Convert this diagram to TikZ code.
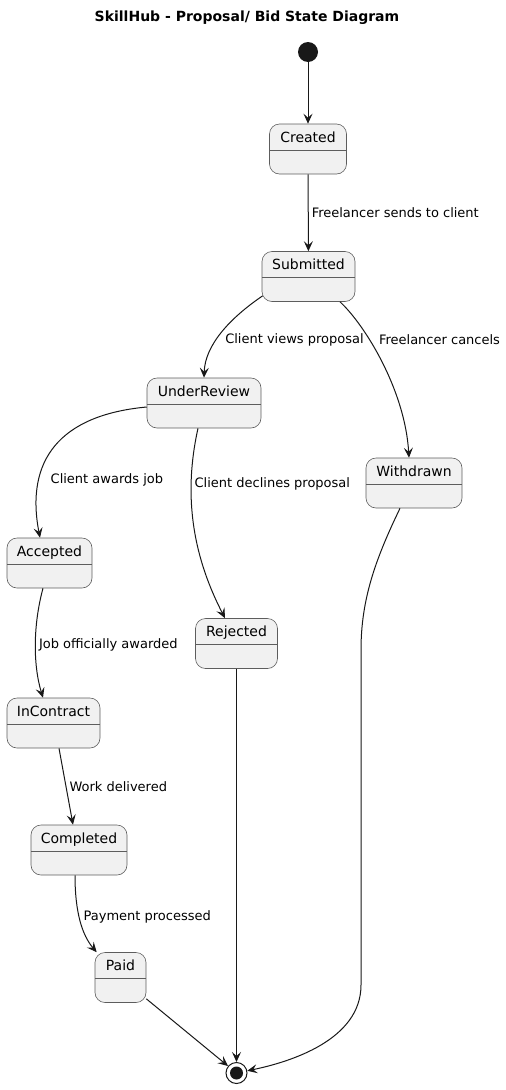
\documentclass[tikz,border=0pt]{standalone}
\usepackage{fontspec}
\setmainfont{DejaVu Sans}
\usetikzlibrary{arrows.meta,calc}
\definecolor{boxfill}{HTML}{F1F1F1}
\definecolor{boxline}{HTML}{5D5D5D}
\definecolor{edgeink}{HTML}{181818}
\begin{document}
\begin{tikzpicture}[x=1pt,y=-1pt,
    state/.style={draw=boxline,fill=boxfill,line width=0.6pt,rounded corners=10pt,
        inner xsep=0pt,inner ysep=0pt,minimum width=#1,text height=18pt,text depth=32pt,
        font=\fontsize{14}{16}\selectfont,
        path picture={\draw[boxline,line width=0.6pt]
            ([yshift=-26pt]path picture bounding box.north west) --
            ([yshift=-26pt]path picture bounding box.north east);}},
    startst/.style={circle,fill=edgeink,minimum size=20pt,inner sep=0pt},
    finalst/.style={circle,draw=edgeink,line width=1pt,minimum size=21pt,inner sep=0pt,
        path picture={\fill[edgeink] (path picture bounding box.center) circle (6.5pt);}},
    tr/.style={draw=edgeink,line width=1pt,-{Stealth[length=10pt,width=9pt,inset=4pt]}},
    lbl/.style={font=\fontsize{13}{15}\selectfont,inner sep=2pt}]
    \useasboundingbox (0,0) rectangle (506,1090);

    % 标题
    \node[font=\bfseries\fontsize{14}{16}\selectfont] (title) at (247,18) {SkillHub - Proposal/ Bid State Diagram};

    % 状态
    \node[startst] (init) at (308,52) {};
    \node[state=77] (created) at (308,149) {Created};
    \node[state=93] (sub) at (308.5,276.5) {Submitted};
    \node[state=114] (rev) at (204,403) {UnderReview};
    \node[state=96] (wd) at (414,483) {Withdrawn};
    \node[state=85] (acc) at (49.5,563) {Accepted};
    \node[state=82] (rej) at (236.5,643.5) {Rejected};
    \node[state=93] (inc) at (53.5,723) {InContract};
    \node[state=96] (comp) at (79,850) {Completed};
    \node[state=51] (paid) at (120.5,977.5) {Paid};
    \node[finalst] (final) at (236.5,1073) {};

    % 转移
    \draw[tr] (init) -- (created);
    \draw[tr] (created) -- (sub) node[lbl,right=1pt,midway] {Freelancer sends to client};
    \draw[tr] ($(sub.south west)+(1,-6)$) .. controls (230,318) and (205,345) .. (rev.north)
        node[lbl,right=6pt,pos=0.58] {Client views proposal};
    \draw[tr] ($(sub.south)+(31.5,0)$) .. controls (365,325) and (405,390) .. ($(wd.north)+(-5,0)$)
        node[lbl,right=7pt,pos=0.35] {Freelancer cancels};
    \draw[tr] ($(rev.west)+(0,4)$) .. controls (60,415) and (25,460) .. ($(acc.north)+(-9.5,0)$)
        node[lbl,right=9pt,pos=0.72] {Client awards job};
    \draw[tr] ($(rev.south)+(-6,0)$) .. controls (182,500) and (195,560) .. ($(rej.north)+(-11.5,0)$)
        node[lbl,right=1pt,pos=0.27] {Client declines proposal};
    \draw[tr] ($(wd.south)+(-14,0)$) .. controls (375,560) and (361,600) .. (361,650)
        -- (361,985) .. controls (361,1040) and (290,1062) .. (final);
    \draw[tr] (rej) -- (final);
    \draw[tr] ($(acc.south)+(-6.5,0)$) .. controls (33,625) and (33,665) .. ($(inc.north)+(-10.5,0)$)
        node[lbl,right=1pt,pos=0.5] {Job officially awarded};
    \draw[tr] ($(inc.south)+(5.5,0)$) -- ($(comp.north)+(-6,0)$)
        node[lbl,right=1pt,midway] {Work delivered};
    \draw[tr] ($(comp.south)+(-4,0)$) .. controls (75,912) and (82,935) .. ($(paid.north west)+(2,0)$)
        node[lbl,right=2pt,pos=0.44] {Payment processed};
    \draw[tr] ($(paid.south east)+(0,-4)$) -- (final);
\end{tikzpicture}
\end{document}
